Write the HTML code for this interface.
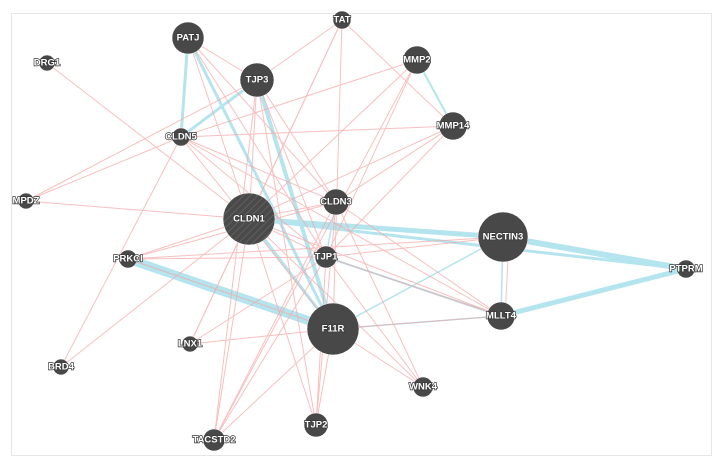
<!DOCTYPE html>
<html><head><style>
body{margin:0;background:#fff}
svg{display:block}
text{font-family:"Liberation Sans",sans-serif;font-size:9.5px;font-weight:bold;fill:#fff;text-anchor:middle;dominant-baseline:central;stroke:#3a3a3a;stroke-width:1.4px;paint-order:stroke}
</style></head><body>
<svg width="719" height="465" viewBox="0 0 719 465">
<defs><pattern id="h" width="5" height="5" patternUnits="userSpaceOnUse" patternTransform="rotate(45)"><rect width="5" height="5" fill="#4a4a4a"/><line x1="0" y1="0" x2="0" y2="5" stroke="#666" stroke-width="1.5"/></pattern></defs>
<rect x="11.5" y="13.5" width="700" height="442" fill="#fff" stroke="#e6e6e6"/>
<g stroke="#a8e0ea" fill="none" opacity="0.85">
<line x1="128" y1="259" x2="333" y2="329" stroke-width="9"/>
<line x1="249" y1="219" x2="503" y2="237" stroke-width="5"/>
<line x1="249" y1="219" x2="686" y2="269" stroke-width="3"/>
<line x1="503" y1="237" x2="686" y2="269" stroke-width="6"/>
<line x1="501" y1="316" x2="686" y2="269" stroke-width="5"/>
<line x1="188" y1="38" x2="181" y2="137" stroke-width="3"/>
<line x1="257" y1="80" x2="181" y2="137" stroke-width="3"/>
<line x1="188" y1="38" x2="333" y2="329" stroke-width="3"/>
<line x1="257" y1="80" x2="333" y2="329" stroke-width="4"/>
<line x1="249" y1="219" x2="333" y2="329" stroke-width="3"/>
<line x1="333" y1="329" x2="503" y2="237" stroke-width="1.5"/>
<line x1="333" y1="329" x2="501" y2="316" stroke-width="1.5"/>
<line x1="326" y1="257" x2="501" y2="316" stroke-width="2"/>
<line x1="417" y1="60" x2="453" y2="126" stroke-width="2"/>
<line x1="503" y1="237" x2="501" y2="316" stroke-width="1.5"/>
<line x1="336" y1="202" x2="326" y2="257" stroke-width="1.5"/>
</g>
<g stroke="#f5a5a5" stroke-width="1" fill="none" opacity="0.7">
<line x1="47" y1="63" x2="249" y2="219"/>
<line x1="26" y1="201" x2="181" y2="137"/>
<line x1="26" y1="201" x2="249" y2="219"/>
<line x1="26" y1="201" x2="257" y2="80"/>
<line x1="61" y1="367" x2="181" y2="137"/>
<line x1="128" y1="259" x2="326" y2="257"/>
<line x1="128" y1="259" x2="503" y2="237"/>
<line x1="190" y1="344" x2="249" y2="219"/>
<line x1="190" y1="344" x2="326" y2="257"/>
<line x1="342" y1="20" x2="257" y2="80"/>
<line x1="342" y1="20" x2="249" y2="219"/>
<line x1="342" y1="20" x2="333" y2="329"/>
<line x1="342" y1="20" x2="190" y2="344"/>
<line x1="417" y1="60" x2="249" y2="219"/>
<line x1="417" y1="60" x2="326" y2="257"/>
<line x1="417" y1="60" x2="214" y2="440"/>
<line x1="417" y1="60" x2="181" y2="137"/>
<line x1="453" y1="126" x2="249" y2="219"/>
<line x1="453" y1="126" x2="181" y2="137"/>
<line x1="453" y1="126" x2="326" y2="257"/>
<line x1="453" y1="126" x2="336" y2="202"/>
<line x1="188" y1="38" x2="257" y2="80"/>
<line x1="188" y1="38" x2="249" y2="219"/>
<line x1="188" y1="38" x2="326" y2="257"/>
<line x1="188" y1="38" x2="336" y2="202"/>
<line x1="257" y1="80" x2="249" y2="219"/>
<line x1="257" y1="80" x2="326" y2="257"/>
<line x1="257" y1="80" x2="336" y2="202"/>
<line x1="257" y1="80" x2="316" y2="425"/>
<line x1="257" y1="80" x2="214" y2="440"/>
<line x1="181" y1="137" x2="336" y2="202"/>
<line x1="181" y1="137" x2="326" y2="257"/>
<line x1="181" y1="137" x2="501" y2="316"/>
<line x1="181" y1="137" x2="333" y2="329"/>
<line x1="249" y1="219" x2="336" y2="202"/>
<line x1="249" y1="219" x2="326" y2="257"/>
<line x1="249" y1="219" x2="501" y2="316"/>
<line x1="249" y1="219" x2="423" y2="387"/>
<line x1="249" y1="219" x2="316" y2="425"/>
<line x1="249" y1="219" x2="214" y2="440"/>
<line x1="249" y1="219" x2="128" y2="259"/>
<line x1="249" y1="219" x2="61" y2="367"/>
<line x1="336" y1="202" x2="316" y2="425"/>
<line x1="336" y1="202" x2="423" y2="387"/>
<line x1="336" y1="202" x2="214" y2="440"/>
<line x1="336" y1="202" x2="128" y2="259"/>
<line x1="326" y1="257" x2="316" y2="425"/>
<line x1="326" y1="257" x2="214" y2="440"/>
<line x1="326" y1="257" x2="423" y2="387"/>
<line x1="326" y1="257" x2="503" y2="237"/>
<line x1="333" y1="329" x2="316" y2="425"/>
<line x1="333" y1="329" x2="214" y2="440"/>
<line x1="333" y1="329" x2="423" y2="387"/>
<line x1="333" y1="329" x2="501" y2="316"/>
<line x1="333" y1="329" x2="128" y2="259"/>
<line x1="509" y1="240" x2="505" y2="316"/>
<line x1="501" y1="316" x2="336" y2="202"/>
<line x1="501" y1="316" x2="326" y2="257"/>
<line x1="342" y1="20" x2="453" y2="126"/>
<line x1="190" y1="344" x2="333" y2="329"/>
</g>
<g fill="#484848" stroke="#fff" stroke-width="0.5">
<circle cx="188" cy="38" r="16"/><circle cx="342" cy="20" r="9"/><circle cx="47" cy="63" r="8"/>
<circle cx="257" cy="80" r="17"/><circle cx="417" cy="60" r="14"/><circle cx="453" cy="126" r="14"/>
<circle cx="181" cy="137" r="9"/><circle cx="26" cy="201" r="8"/><circle cx="336" cy="202" r="13"/>
<circle cx="249" cy="219" r="26" fill="url(#h)"/><circle cx="503" cy="237" r="25"/><circle cx="326" cy="257" r="11"/>
<circle cx="128" cy="259" r="9"/><circle cx="686" cy="269" r="9"/><circle cx="501" cy="316" r="14"/>
<circle cx="333" cy="329" r="26"/><circle cx="190" cy="344" r="8"/><circle cx="61" cy="367" r="8"/>
<circle cx="423" cy="387" r="10"/><circle cx="316" cy="425" r="12"/><circle cx="214" cy="440" r="11"/>
</g>
<g>
<text x="188" y="38">PATJ</text><text x="342" y="20">TAT</text><text x="47" y="63">DRG1</text>
<text x="257" y="80">TJP3</text><text x="417" y="60">MMP2</text><text x="453" y="126">MMP14</text>
<text x="181" y="137">CLDN5</text><text x="26" y="201">MPDZ</text><text x="336" y="202">CLDN3</text>
<text x="249" y="219">CLDN1</text><text x="503" y="237">NECTIN3</text><text x="326" y="257">TJP1</text>
<text x="128" y="259">PRKCI</text><text x="686" y="269">PTPRM</text><text x="501" y="316">MLLT4</text>
<text x="333" y="329">F11R</text><text x="190" y="344">LNX1</text><text x="61" y="367">BRD4</text>
<text x="423" y="387">WNK4</text><text x="316" y="425">TJP2</text><text x="214" y="440">TACSTD2</text>
</g>
</svg>
</body></html>
